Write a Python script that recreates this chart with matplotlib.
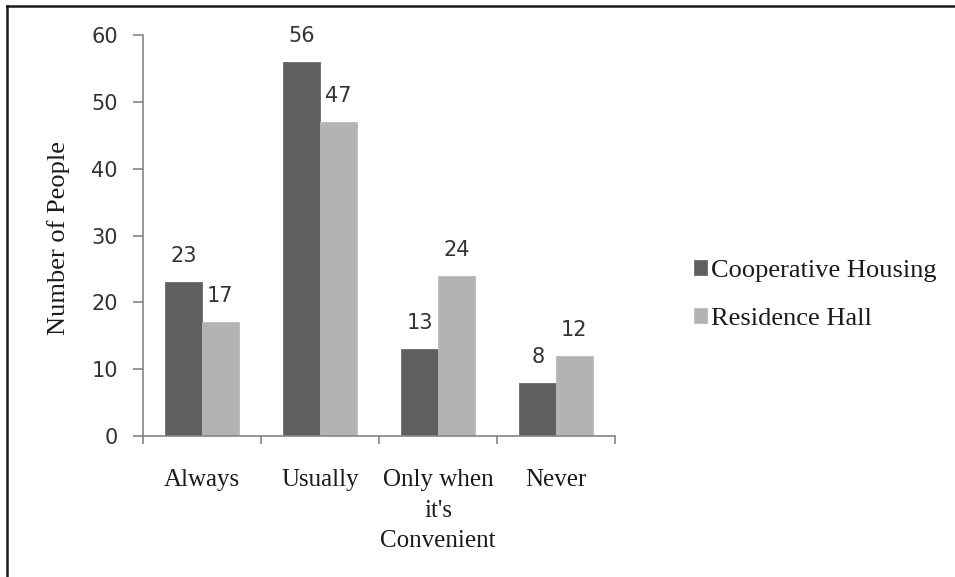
import matplotlib
matplotlib.use("Agg")
import matplotlib.pyplot as plt
import numpy as np
from matplotlib.lines import Line2D

categories = ["Always", "Usually", "Only when\nit's\nConvenient", "Never"]
series_names = ["Cooperative Housing", "Residence Hall"]
coop_values = [23, 56, 13, 8]
hall_values = [17, 47, 24, 12]
y_ticks = [0, 10, 20, 30, 40, 50, 60]

dark = "#5f5f5f"
light = "#b3b3b3"
axis_gray = "#858585"
serif = ["Liberation Serif", "DejaVu Serif"]
sans = ["DejaVu Sans"]

fig = plt.figure(figsize=(9.55, 5.77), dpi=100)
ax = fig.add_axes([0.1497, 0.2444, 0.4943, 0.6949])

x = np.arange(len(categories))
w = 0.31
b1 = ax.bar(x - w / 2, coop_values, w, color=dark, edgecolor="#6a6a6a",
            linewidth=0.6, label=series_names[0], zorder=2)
b2 = ax.bar(x + w / 2, hall_values, w, color=light, edgecolor="#bcbcbc",
            linewidth=0.6, label=series_names[1], zorder=2)

for bars, vals in ((b1, coop_values), (b2, hall_values)):
    for rect, v in zip(bars, vals):
        ax.annotate(str(v), (rect.get_x() + rect.get_width() / 2, v),
                    xytext=(0, 11.5), textcoords="offset points",
                    ha="center", va="bottom", fontsize=15,
                    family=sans, color="#333333")

ax.set_xlim(-0.5, len(categories) - 0.5)
ax.set_ylim(0, 60)
ax.set_yticks(y_ticks)
ax.set_yticklabels([str(t) for t in y_ticks], family=sans, fontsize=15,
                   color="#333333")
ax.tick_params(axis="y", direction="out", length=7, width=1.2,
               color=axis_gray, pad=11)

ax.set_xticks(x)
ax.set_xticklabels(categories, family=serif, fontsize=18, color="#1a1a1a",
                   linespacing=1.5, va="top")
ax.tick_params(axis="x", which="major", length=0, pad=24)
ax.set_xticks(np.arange(len(categories) + 1) - 0.5, minor=True)
ax.tick_params(axis="x", which="minor", direction="out", length=5.5,
               width=1.2, color=axis_gray)

for side in ("top", "right"):
    ax.spines[side].set_visible(False)
for side in ("left", "bottom"):
    ax.spines[side].set_color(axis_gray)
    ax.spines[side].set_linewidth(1.2)

ax.set_ylabel("Number of People", family=serif, fontsize=19,
              color="#1a1a1a")
ax.yaxis.set_label_coords(-0.155, 0.495)

leg = fig.legend(handles=[b1, b2], labels=series_names, loc="center left",
                 bbox_to_anchor=(0.727, 0.4887), frameon=False,
                 prop={"family": serif, "size": 19},
                 handlelength=0.48, handleheight=0.48, handletextpad=0.15,
                 labelspacing=0.98, borderpad=0, borderaxespad=0)
for t in leg.get_texts():
    t.set_color("#1a1a1a")

# outer frame lines along top and left edges
fig.add_artist(Line2D([6.5 / 955, 1.0], [1 - 5.5 / 577, 1 - 5.5 / 577],
                      transform=fig.transFigure, color="#1a1a1a", lw=1.8))
fig.add_artist(Line2D([6.5 / 955, 6.5 / 955], [0.0, 1 - 5.5 / 577],
                      transform=fig.transFigure, color="#1a1a1a", lw=1.8))

fig.savefig("out.png", dpi=100)
